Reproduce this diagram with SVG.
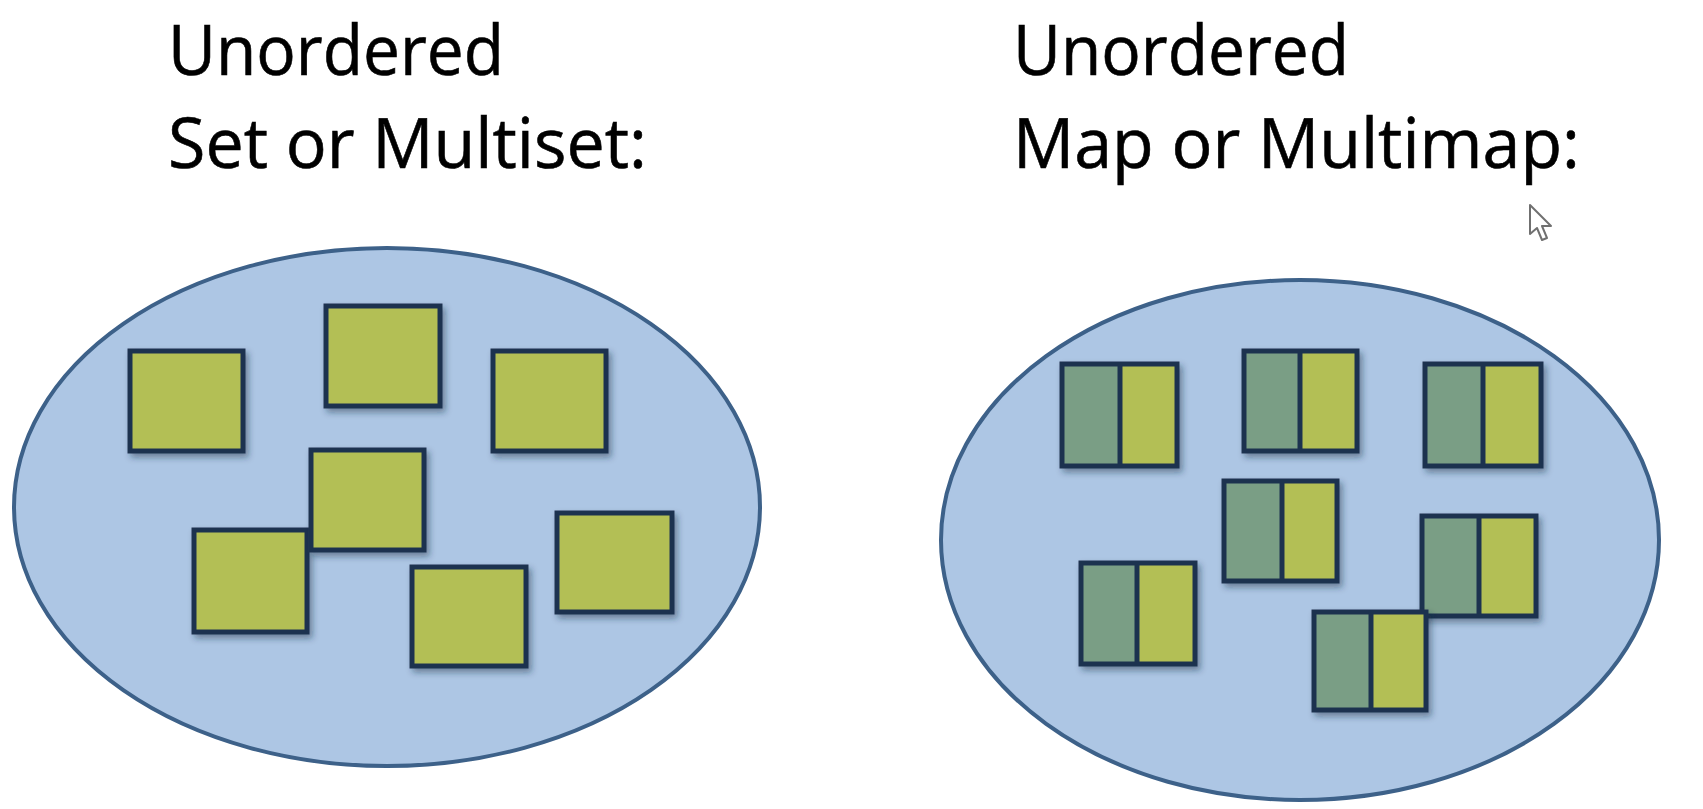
<svg xmlns="http://www.w3.org/2000/svg" width="1703" height="809" viewBox="0 0 1703 809">
  <defs>
    <filter id="sh" x="-20%" y="-20%" width="150%" height="150%">
      <feDropShadow dx="3" dy="4" stdDeviation="3" flood-color="#1a2c40" flood-opacity="0.45"/>
    </filter>
  </defs>
  <style>
    .title { font-family: "Open Sans", "Noto Sans", sans-serif; font-size: 70px; fill: #000; stroke: #000; stroke-width: 0.6; }
    .bag { fill: #adc6e4; stroke: #3d6189; stroke-width: 4; }
    .item { fill: #b3bf55; stroke: #1e3350; stroke-width: 5; filter: url(#sh); }
    .key { fill: #7a9e85; }
    .val { fill: #b3bf55; }
    .frame { fill: none; stroke: #1e3350; stroke-width: 5; }
    .div { stroke: #1e3350; stroke-width: 5; }
  </style>
  <rect width="1703" height="809" fill="#ffffff"/>

  <g id="title-left">
    <text class="title" x="168" y="75" textLength="336" lengthAdjust="spacingAndGlyphs">Unordered</text>
    <text class="title" x="168" y="168" textLength="479" lengthAdjust="spacingAndGlyphs">Set or Multiset:</text>
  </g>
  <g id="title-right">
    <text class="title" x="1013" y="75" textLength="336" lengthAdjust="spacingAndGlyphs">Unordered</text>
    <text class="title" x="1013" y="168" textLength="567" lengthAdjust="spacingAndGlyphs">Map or Multimap:</text>
  </g>

  <g id="set">
    <ellipse class="bag" cx="387" cy="507" rx="373" ry="259"/>
    <rect class="item" x="130" y="351" width="113" height="100"/>
    <rect class="item" x="326" y="306" width="114" height="100"/>
    <rect class="item" x="493" y="351" width="113" height="100"/>
    <rect class="item" x="194" y="530" width="113" height="102"/>
    <rect class="item" x="311" y="450" width="113" height="100"/>
    <rect class="item" x="412" y="567" width="114" height="99"/>
    <rect class="item" x="557" y="513" width="115" height="99"/>
  </g>

  <g id="map">
    <ellipse class="bag" cx="1300" cy="540" rx="359" ry="260"/>
    <g id="pair1" filter="url(#sh)">
      <rect class="key" x="1062" y="364" width="58" height="102"/>
      <rect class="val" x="1120" y="364" width="57" height="102"/>
      <rect class="frame" x="1062" y="364" width="115" height="102"/>
      <line class="div" x1="1120" y1="364" x2="1120" y2="466"/>
    </g>
    <g id="pair2" filter="url(#sh)">
      <rect class="key" x="1244" y="351" width="56" height="100"/>
      <rect class="val" x="1300" y="351" width="57" height="100"/>
      <rect class="frame" x="1244" y="351" width="113" height="100"/>
      <line class="div" x1="1300" y1="351" x2="1300" y2="451"/>
    </g>
    <g id="pair3" filter="url(#sh)">
      <rect class="key" x="1425" y="364" width="58" height="102"/>
      <rect class="val" x="1483" y="364" width="58" height="102"/>
      <rect class="frame" x="1425" y="364" width="116" height="102"/>
      <line class="div" x1="1483" y1="364" x2="1483" y2="466"/>
    </g>
    <g id="pair4" filter="url(#sh)">
      <rect class="key" x="1224" y="481" width="58" height="100"/>
      <rect class="val" x="1282" y="481" width="55" height="100"/>
      <rect class="frame" x="1224" y="481" width="113" height="100"/>
      <line class="div" x1="1282" y1="481" x2="1282" y2="581"/>
    </g>
    <g id="pair5" filter="url(#sh)">
      <rect class="key" x="1081" y="563" width="56" height="101"/>
      <rect class="val" x="1137" y="563" width="58" height="101"/>
      <rect class="frame" x="1081" y="563" width="114" height="101"/>
      <line class="div" x1="1137" y1="563" x2="1137" y2="664"/>
    </g>
    <g id="pair6" filter="url(#sh)">
      <rect class="key" x="1422" y="516" width="57" height="100"/>
      <rect class="val" x="1479" y="516" width="57" height="100"/>
      <rect class="frame" x="1422" y="516" width="114" height="100"/>
      <line class="div" x1="1479" y1="516" x2="1479" y2="616"/>
    </g>
    <g id="pair7" filter="url(#sh)">
      <rect class="key" x="1314" y="612" width="57" height="98"/>
      <rect class="val" x="1371" y="612" width="55" height="98"/>
      <rect class="frame" x="1314" y="612" width="112" height="98"/>
      <line class="div" x1="1371" y1="612" x2="1371" y2="710"/>
    </g>
  </g>

  <g id="connectors"></g>

  <g id="cursor">
    <polygon points="1530,205 1530,234 1537,228 1542,240 1547,238 1542,226 1551,226" fill="#ffffff" stroke="#707070" stroke-width="2" stroke-linejoin="round"/>
  </g>
</svg>
